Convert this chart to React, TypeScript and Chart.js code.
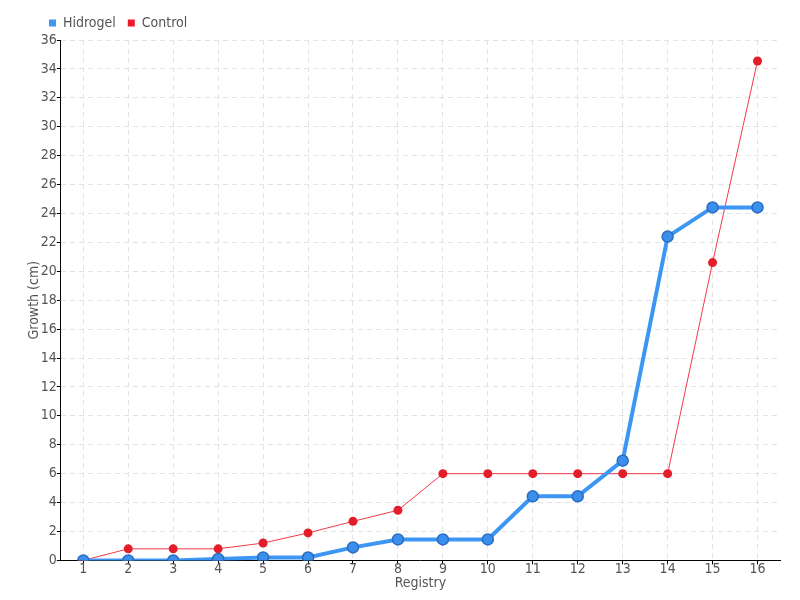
import React, { useEffect, useRef } from "react";
import { Chart, registerables } from "chart.js";

Chart.register(...registerables);

const categories = ["1", "2", "3", "4", "5", "6", "7", "8", "9", "10", "11", "12", "13", "14", "15", "16"];
const hidrogel = [0, 0, 0, 0.1, 0.2, 0.2, 0.9, 1.45, 1.45, 1.45, 4.43, 4.43, 6.9, 22.4, 24.42, 24.42];
const control = [0, 0.8, 0.8, 0.8, 1.2, 1.9, 2.7, 3.47, 6, 6, 6, 6, 6, 6, 20.6, 34.55];
const yTicks = [0, 2, 4, 6, 8, 10, 12, 14, 16, 18, 20, 22, 24, 26, 28, 30, 32, 34, 36];

const FONT = "'Liberation Sans Narrow', 'DejaVu Sans Condensed', 'Roboto Condensed', sans-serif";
const TEXT = "#555555";

const legendShift = {
  id: "legendShift",
  afterLayout(chart: any) {
    if (chart.legend) {
      chart.legend.left += 11;
    }
  },
};

export default function App() {
  const ref = useRef<HTMLCanvasElement | null>(null);

  useEffect(() => {
    document.body.style.margin = "0";
    if (!ref.current) return;
    const chart = new Chart(ref.current, {
      type: "line",
      data: {
        labels: categories,
        datasets: [
          {
            label: "Hidrogel",
            data: hidrogel,
            borderColor: "#3d96f4",
            backgroundColor: "#3d96f4",
            borderWidth: 4,
            pointRadius: 5.5,
            pointBackgroundColor: "#3a8fec",
            pointBorderColor: "#2a6cc2",
            pointBorderWidth: 1.5,
            tension: 0,
            fill: false,
          },
          {
            label: "Control",
            data: control,
            borderColor: "#f23a4a",
            backgroundColor: "#ea1c2c",
            borderWidth: 1,
            pointRadius: 4.5,
            pointBackgroundColor: "#e41d2b",
            pointBorderColor: "#e41d2b",
            pointBorderWidth: 0,
            tension: 0,
            fill: false,
          },
        ],
      },
      options: {
        animation: false,
        responsive: false,
        layout: { padding: { left: 26, right: 20, top: 4, bottom: 8 } },
        font: { family: FONT, size: 14 },
        plugins: {
          tooltip: { enabled: false },
          legend: {
            position: "top",
            align: "start",
            labels: {
              boxWidth: 7,
              boxHeight: 7,
              padding: 12,
              color: TEXT,
              font: { family: FONT, size: 14 },
              generateLabels: (ch: any) =>
                ch.data.datasets.map((ds: any, i: number) => ({
                  text: ds.label,
                  fillStyle: i === 0 ? "#3d96f4" : "#ea1c2c",
                  strokeStyle: i === 0 ? "#3d96f4" : "#ea1c2c",
                  lineWidth: 0,
                  datasetIndex: i,
                  fontColor: TEXT,
                })),
            },
          },
        },
        scales: {
          x: {
            type: "category",
            offset: true,
            grid: {
              color: "#e3e3e3",
              lineWidth: 1,
              offset: false,
              tickLength: 4,
              tickColor: "#000000",
            },
            border: { display: true, color: "#000000", width: 1, dash: [5, 4] },
            ticks: { color: TEXT, padding: -3, font: { family: FONT, size: 14 } },
            title: {
              display: true,
              text: "Registry",
              color: TEXT,
              padding: { top: 0, bottom: 0 },
              font: { family: FONT, size: 14 },
            },
          },
          y: {
            type: "linear",
            min: 0,
            max: 36,
            afterBuildTicks: (scale: any) => {
              scale.ticks = yTicks.map((v) => ({ value: v }));
            },
            grid: {
              color: "#e3e3e3",
              lineWidth: 1,
              tickLength: 4,
              tickColor: "#000000",
            },
            border: { display: true, color: "#000000", width: 1, dash: [5, 4] },
            ticks: { color: TEXT, padding: 0, font: { family: FONT, size: 14 } },
            title: {
              display: true,
              text: "Growth (cm)",
              color: TEXT,
              padding: { top: 0, bottom: -2 },
              font: { family: FONT, size: 14 },
            },
          },
        },
      },
      plugins: [legendShift],
    } as any);
    return () => chart.destroy();
  }, []);

  return <canvas ref={ref} width={800} height={600} style={{ display: "block" }} />;
}
